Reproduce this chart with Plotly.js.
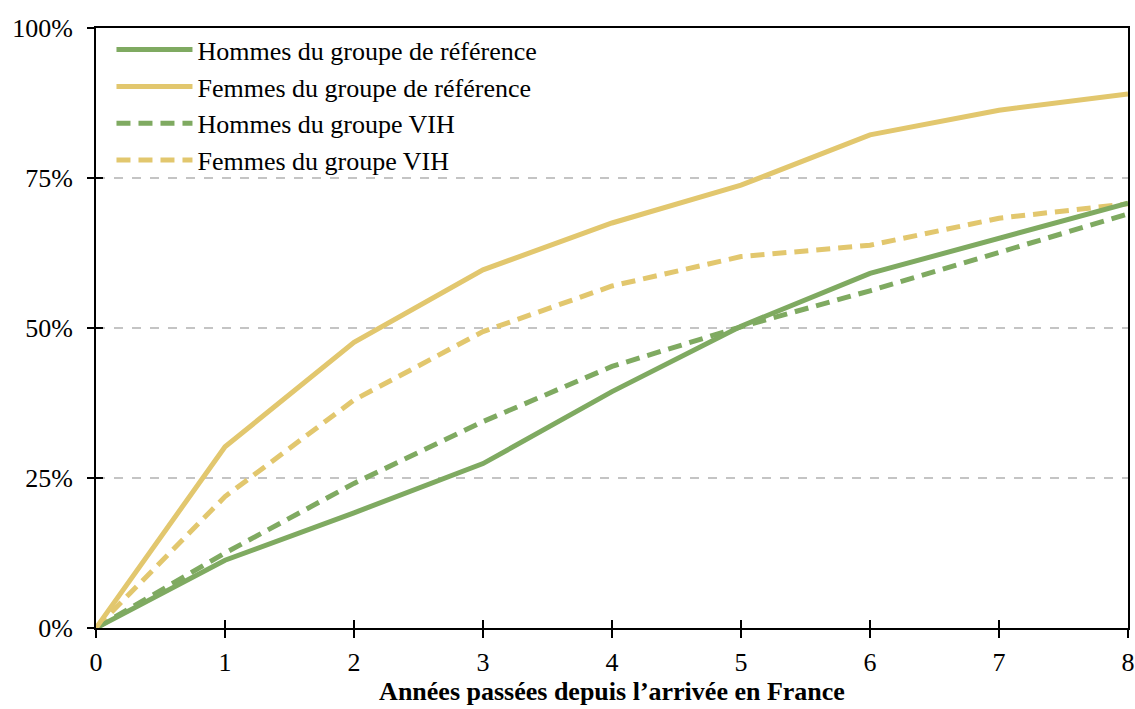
<!DOCTYPE html>
<html><head><meta charset="utf-8">
<script src="https://cdn.plot.ly/plotly-3.0.1.min.js"></script>
<style>html,body{margin:0;padding:0;background:#fff}#chart{width:1135px;height:709px}</style>
</head><body><div id="chart"></div>
<script>
const years = [0, 1, 2, 3, 4, 5, 6, 7, 8];
const hommesRef = [0, 0.113, 0.192, 0.274, 0.394, 0.503, 0.591, 0.650, 0.708];
const femmesRef = [0, 0.302, 0.476, 0.597, 0.675, 0.738, 0.822, 0.863, 0.890];
const hommesVIH = [0, 0.125, 0.241, 0.344, 0.436, 0.502, 0.562, 0.627, 0.690];
const femmesVIH = [0, 0.219, 0.380, 0.494, 0.570, 0.619, 0.638, 0.683, 0.707];
const names = ["Hommes du groupe de référence", "Femmes du groupe de référence", "Hommes du groupe VIH", "Femmes du groupe VIH"];
const green = "#7FAA61", yellow = "#E2C76E";
const xTicks = [0,1,2,3,4,5,6,7,8];
const yTicks = [0, 0.25, 0.5, 0.75, 1];
const yTickText = ["0%", "25%", "50%", "75%", "100%"];

const fam = "Liberation Serif";
function f(size){ return {family: fam, size: size, color: "#000"}; }
function tr(y, name, color, dash, g, rank){
  return {x: years, y: y, name: name, type: "scatter", mode: "lines", legendgroup: g, legendrank: rank,
    line: {color: color, width: 5, dash: dash}, hoverinfo: "skip"};
}
const data = [
  tr(hommesVIH, names[2], green, "14px,8px", "c", 3),
  tr(femmesVIH, names[3], yellow, "14px,8px", "d", 4),
  tr(hommesRef, names[0], green, "solid", "a", 1),
  tr(femmesRef, names[1], yellow, "solid", "b", 2)
];

const layout = {
  width: 1135, height: 709,
  margin: {l: 96, r: 7, t: 28, b: 81},
  paper_bgcolor: "#fff", plot_bgcolor: "#fff",
  font: f(26),
  showlegend: true,
  legend: {x: 0.015, y: 1.003, xanchor: "left", yanchor: "top", bgcolor: "rgba(0,0,0,0)",
    font: f(26), tracegroupgap: 0, traceorder: "normal", itemwidth: 76},
  xaxis: {range: [0, 8], tickvals: xTicks, ticks: "outside", ticklen: 8, tickwidth: 2, tickcolor: "#000",
    showline: true, linecolor: "#000", linewidth: 2, mirror: true, showgrid: false, zeroline: false,
    tickfont: f(26), ticklabelstandoff: 2,
    title: {text: "<b>Années passées depuis l’arrivée en France</b>", font: f(26), standoff: 3}},
  yaxis: {range: [0, 1], tickvals: yTicks, ticktext: yTickText, ticks: "outside", ticklen: 7, tickwidth: 2, tickcolor: "#000",
    showline: true, linecolor: "#000", linewidth: 2, mirror: true, showgrid: true, gridcolor: "#C4C4C4", gridwidth: 1.5,
    griddash: "dash", zeroline: false, tickfont: f(26), ticklabelstandoff: 9},
  xaxis2: {overlaying: "x", matches: "x", range: [0, 8], tickvals: xTicks, ticks: "inside", ticklen: 8, tickwidth: 2,
    tickcolor: "#000", showticklabels: false, showgrid: false, zeroline: false, showline: false, anchor: "y"},
  yaxis2: {overlaying: "y", matches: "y", range: [0, 1], tickvals: yTicks, ticks: "inside", ticklen: 7, tickwidth: 2,
    tickcolor: "#000", showticklabels: false, showgrid: false, zeroline: false, showline: false, anchor: "x", side: "left"}
};
data.push({x: [], y: [], xaxis: "x2", yaxis: "y2", showlegend: false, type: "scatter", hoverinfo: "skip"});
Plotly.newPlot("chart", data, layout, {displayModeBar: false, staticPlot: true});
</script></body></html>
